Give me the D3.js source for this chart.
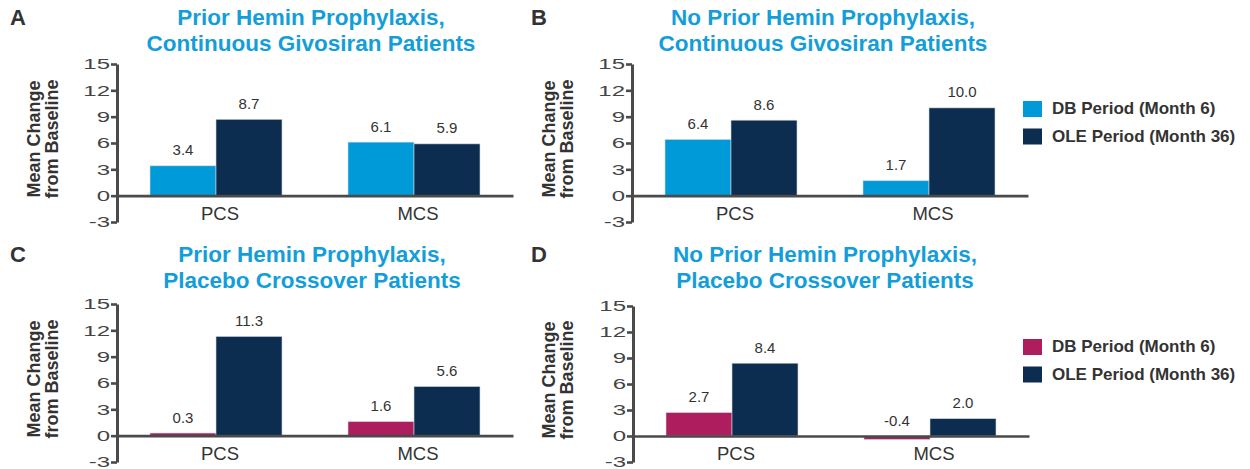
<!DOCTYPE html>
<html>
<head>
<meta charset="utf-8">
<script src="https://cdn.jsdelivr.net/npm/d3@7"></script>
<style>
  body { margin: 0; background: #fff; }
  text { font-family: "Liberation Sans", Arial, sans-serif; }
</style>
</head>
<body>
<script>

var categories = ["PCS", "MCS"];
var seriesNames = ["DB Period (Month 6)", "OLE Period (Month 36)"];
var panelLetters = ["A", "B", "C", "D"];
var panelTitles = [
  ["Prior Hemin Prophylaxis,", "Continuous Givosiran Patients"],
  ["No Prior Hemin Prophylaxis,", "Continuous Givosiran Patients"],
  ["Prior Hemin Prophylaxis,", "Placebo Crossover Patients"],
  ["No Prior Hemin Prophylaxis,", "Placebo Crossover Patients"]
];
var dbValues = [[3.4, 6.1], [6.4, 1.7], [0.3, 1.6], [2.7, -0.4]];
var oleValues = [[8.7, 5.9], [8.6, 10.0], [11.3, 5.6], [8.4, 2.0]];
var yTicks = [-3, 0, 3, 6, 9, 12, 15];
var yLabelLines = ["Mean Change", "from Baseline"];

// colours
var navy = "#0c2d4f";
var dbColors = ["#009ad9", "#009ad9", "#ae1d5e", "#ae1d5e"];
var titleColor = "#139ed9";
var textColor = "#333333";
var axisColor = "#4a4a4a";

// where each panel sits on the page
var panels = [
  {x0: 117, x1: 513, yTop: 64, yBot: 222, tx: 311, ty: 25, lx: 10, labX: 35},
  {x0: 632, x1: 1028, yTop: 64, yBot: 222, tx: 823, ty: 25, lx: 531, labX: 550},
  {x0: 117, x1: 513, yTop: 304, yBot: 462, tx: 312, ty: 262, lx: 10, labX: 35},
  {x0: 633, x1: 1029, yTop: 306, yBot: 462, tx: 825, ty: 262, lx: 531, labX: 550}
];

var svg = d3.select("body").append("svg")
    .attr("width", 1250)
    .attr("height", 469);

panels.forEach(function(p, i) {

  var y = d3.scaleLinear()
      .domain([-3, 15])
      .range([p.yBot, p.yTop]);

  var x0 = d3.scaleBand()
      .domain(categories)
      .range([p.x0, p.x1]);

  var x1 = d3.scaleBand()
      .domain([0, 1])
      .range([33, x0.bandwidth() - 33]);

  var g = svg.append("g");

  // panel letter
  g.append("text")
      .attr("x", p.lx)
      .attr("y", p.ty)
      .attr("font-size", "22px")
      .attr("font-weight", "bold")
      .attr("fill", textColor)
      .text(panelLetters[i]);

  // title
  g.selectAll(".title")
      .data(panelTitles[i])
      .enter().append("text")
      .attr("x", p.tx)
      .attr("y", function(d, k) { return p.ty + k * 25.5; })
      .attr("text-anchor", "middle")
      .attr("font-size", "22.5px")
      .attr("font-weight", "bold")
      .attr("fill", titleColor)
      .text(function(d) { return d; });

  // bars
  var rows = categories.map(function(c, k) {
    return {cat: c, vals: [dbValues[i][k], oleValues[i][k]]};
  });

  var grp = g.selectAll(".grp")
      .data(rows)
      .enter().append("g")
      .attr("transform", function(d) { return "translate(" + x0(d.cat) + ",0)"; });

  grp.selectAll("rect")
      .data(function(d) { return d.vals; })
      .enter().append("rect")
      .attr("x", function(d, k) { return x1(k); })
      .attr("width", x1.bandwidth())
      .attr("y", function(d) { return y(Math.max(d, 0)); })
      .attr("height", function(d) { return Math.abs(y(d) - y(0)); })
      .attr("fill", function(d, k) { return k == 0 ? dbColors[i] : navy; })
      .attr("stroke", "#cfd6de")
      .attr("stroke-width", 0.6);

  grp.selectAll(".val")
      .data(function(d) { return d.vals; })
      .enter().append("text")
      .attr("x", function(d, k) { return x1(k) + x1.bandwidth() / 2; })
      .attr("y", function(d) { return y(Math.max(d, 0)) - 10.5; })
      .attr("text-anchor", "middle")
      .attr("font-size", "15px")
      .attr("fill", textColor)
      .text(function(d) { return d.toFixed(1); });

  // zero line + category labels
  var xAxis = g.append("g")
      .attr("transform", "translate(0," + y(0) + ")")
      .call(d3.axisBottom(x0).tickSize(0).tickSizeOuter(0).tickPadding(11));
  xAxis.select(".domain")
      .attr("stroke", axisColor)
      .attr("stroke-width", 2.6);
  xAxis.selectAll("text")
      .attr("font-size", "18.5px")
      .attr("font-family", "Liberation Sans, Arial, sans-serif")
      .attr("fill", textColor)
      .attr("dx", 4);

  // y axis
  var sx = 1.6;
  var yAxis = g.append("g")
      .attr("transform", "translate(" + p.x0 + ",0)")
      .call(d3.axisLeft(y).tickValues(yTicks).tickSize(6).tickSizeOuter(0)
        .tickFormat(function(d) { return String(d); }));
  yAxis.select(".domain")
      .attr("stroke", axisColor)
      .attr("stroke-width", 3);
  yAxis.selectAll(".tick line")
      .attr("stroke", axisColor)
      .attr("stroke-width", 2.6);
  yAxis.selectAll("text")
      .attr("font-size", "15px")
      .attr("font-family", "Liberation Sans, Arial, sans-serif")
      .attr("fill", "#444")
      .attr("x", -7 / sx)
      .attr("transform", "scale(" + sx + ",1)");

  // y label
  var midY = (y(15) + y(-3)) / 2 - 4;
  g.selectAll(".ylab")
      .data(yLabelLines)
      .enter().append("text")
      .attr("transform", function(d, k) {
        return "translate(" + (p.labX + 5 + k * 18) + "," + midY + ") rotate(-90)";
      })
      .attr("text-anchor", "middle")
      .attr("font-size", "18px")
      .attr("font-weight", "bold")
      .attr("fill", textColor)
      .text(function(d) { return d; });
});

// legends
var legendTops = [101, 339];
legendTops.forEach(function(top, j) {
  var lg = svg.append("g").attr("transform", "translate(1023," + top + ")");
  var items = lg.selectAll("g")
      .data(seriesNames)
      .enter().append("g")
      .attr("transform", function(d, k) { return "translate(0," + k * 27.5 + ")"; });
  items.append("rect")
      .attr("width", 19)
      .attr("height", 16)
      .attr("fill", function(d, k) { return k == 0 ? dbColors[j * 2] : navy; });
  items.append("text")
      .attr("x", 29)
      .attr("y", 13)
      .attr("font-size", "17px")
      .attr("font-weight", "bold")
      .attr("fill", textColor)
      .text(function(d) { return d; });
});

</script>
</body>
</html>
